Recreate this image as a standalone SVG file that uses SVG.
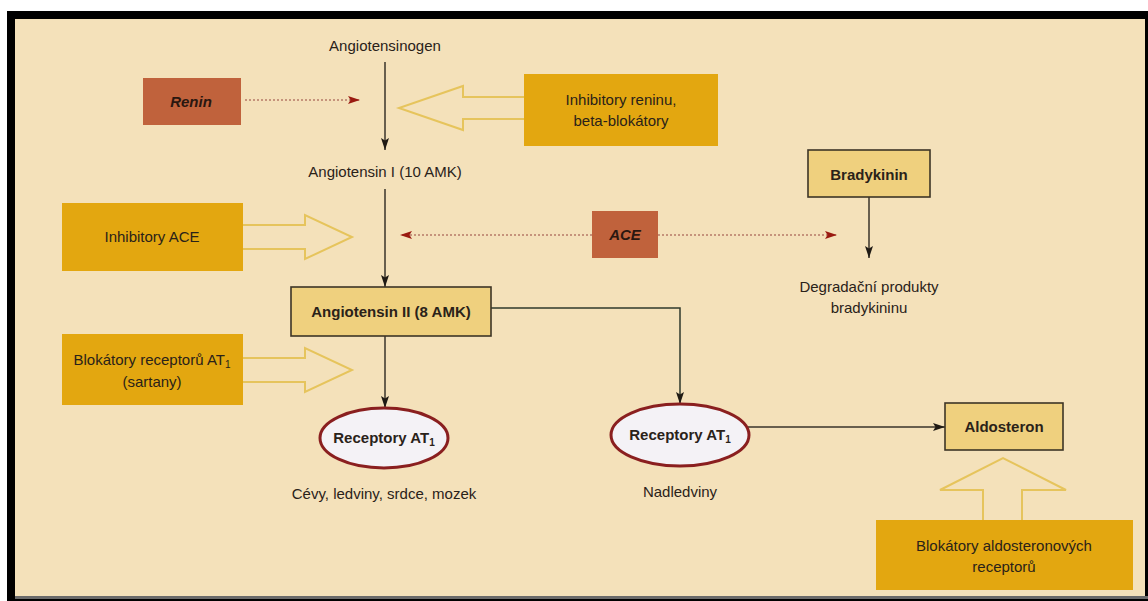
<svg xmlns="http://www.w3.org/2000/svg" width="1148" height="601" viewBox="0 0 1148 601">
<defs>
<style>
.t{font-family:"Liberation Sans",Arial,sans-serif;font-size:15px;fill:#2a2219;text-anchor:middle}
.b{font-weight:bold}
.bi{font-weight:bold;font-style:italic;fill:#2a1710}
.drug{fill:#e3a710}
.enz{fill:#c0623c}
.sub{fill:#efd07e;stroke:#3d3526;stroke-width:1.6}
.rec{fill:#f4f2f6;stroke:#8a1f1f;stroke-width:3}
.ln{fill:none;stroke:#3a332a;stroke-width:1.5}
.dot{fill:none;stroke:#b57a68;stroke-width:1.3;stroke-dasharray:2 2}
.hol{fill:none;stroke:#e6c45c;stroke-width:2;stroke-linejoin:miter}
</style>
<marker id="ah" viewBox="0 0 12 8" refX="12" refY="4" markerWidth="12" markerHeight="9" orient="auto" markerUnits="userSpaceOnUse">
<path d="M0,0 L12,4 L0,8 L2.5,4 z" fill="#1f1a14"/>
</marker>
<marker id="ahr" viewBox="0 0 12 8" refX="12" refY="4" markerWidth="12" markerHeight="9" orient="auto" markerUnits="userSpaceOnUse">
<path d="M0,0 L12,4 L0,8 L2.5,4 z" fill="#9a1a10"/>
</marker>
</defs>

<rect x="0" y="0" width="1148" height="601" fill="#ffffff"/>
<rect x="7" y="11" width="1141" height="590" fill="#000000"/>
<rect x="15" y="19" width="1130" height="577" fill="#f4e1ba"/>
<rect x="15" y="596" width="1133" height="3" fill="#6a6a6a"/>

<g id="connectors">
<line class="ln" x1="385" y1="62" x2="385" y2="150" marker-end="url(#ah)"/>
<line class="ln" x1="385" y1="189" x2="385" y2="287" marker-end="url(#ah)"/>
<line class="ln" x1="385" y1="336" x2="385" y2="408" marker-end="url(#ah)"/>
<polyline class="ln" points="491,308 680,308 680,404" marker-end="url(#ah)" style="stroke:#2f3a2c"/>
<line class="ln" x1="748" y1="427" x2="945" y2="427" marker-end="url(#ah)"/>
<line class="ln" x1="869" y1="197" x2="869" y2="258" marker-end="url(#ah)"/>
<line class="dot" x1="245" y1="100" x2="360" y2="100" marker-end="url(#ahr)"/>
<line class="dot" x1="592" y1="235" x2="400" y2="235" marker-end="url(#ahr)"/>
<line class="dot" x1="658" y1="235" x2="837" y2="235" marker-end="url(#ahr)"/>
<path class="hol" d="M524,97 L463,97 L463,86 L399,108 L463,130 L463,119 L524,119"/>
<path class="hol" d="M243,225 L305,225 L305,215 L352,237 L305,259 L305,249 L243,249"/>
<path class="hol" d="M243,358 L305,358 L305,348 L352,370 L305,392 L305,382 L243,382"/>
<path class="hol" d="M983,520 L983,490 L940,490 L1003,458 L1066,490 L1022,490 L1022,520"/>
</g>

<g id="angiotensinogen">
<text class="t" x="385" y="51">Angiotensinogen</text>
</g>
<g id="renin">
<rect class="enz" x="143" y="78" width="98" height="47"/>
<text class="t bi" x="191" y="107">Renin</text>
</g>
<g id="inhibitory-reninu">
<rect class="drug" x="524" y="74" width="194" height="72"/>
<text class="t" x="621" y="105">Inhibitory reninu,</text>
<text class="t" x="621" y="126">beta-blokátory</text>
</g>
<g id="angiotensin-i">
<text class="t" x="385" y="177">Angiotensin I (10 AMK)</text>
</g>
<g id="bradykinin">
<rect class="sub" x="808" y="150" width="122" height="47"/>
<text class="t b" x="869" y="180">Bradykinin</text>
</g>
<g id="inhibitory-ace">
<rect class="drug" x="62" y="203" width="181" height="68"/>
<text class="t" x="152" y="242">Inhibitory ACE</text>
</g>
<g id="ace">
<rect class="enz" x="592" y="211" width="66" height="47"/>
<text class="t bi" x="625" y="240">ACE</text>
</g>
<g id="degradacni-produkty">
<text class="t" x="869" y="292">Degradační produkty</text>
<text class="t" x="869" y="313">bradykininu</text>
</g>
<g id="angiotensin-ii">
<rect class="sub" x="291" y="287" width="200" height="49"/>
<text class="t b" x="391" y="317">Angiotensin II (8 AMK)</text>
</g>
<g id="blokatory-at1">
<rect class="drug" x="62" y="334" width="181" height="71"/>
<text class="t" x="152" y="365">Blokátory receptorů AT<tspan font-size="10" dy="3">1</tspan></text>
<text class="t" x="152" y="387">(sartany)</text>
</g>
<g id="receptory-at1-a">
<ellipse class="rec" cx="384" cy="438" rx="64" ry="30"/>
<text class="t b" x="384" y="443">Receptory AT<tspan font-size="10" dy="3">1</tspan></text>
<text class="t" x="384" y="499">Cévy, ledviny, srdce, mozek</text>
</g>
<g id="receptory-at1-b">
<ellipse class="rec" cx="680" cy="435" rx="69" ry="31"/>
<text class="t b" x="680" y="440">Receptory AT<tspan font-size="10" dy="3">1</tspan></text>
<text class="t" x="680" y="497">Nadledviny</text>
</g>
<g id="aldosteron">
<rect class="sub" x="945" y="403" width="118" height="47"/>
<text class="t b" x="1004" y="432">Aldosteron</text>
</g>
<g id="blokatory-aldosteron">
<rect class="drug" x="876" y="520" width="257" height="70"/>
<text class="t" x="1004" y="551">Blokátory aldosteronových</text>
<text class="t" x="1004" y="572">receptorů</text>
</g>
</svg>
